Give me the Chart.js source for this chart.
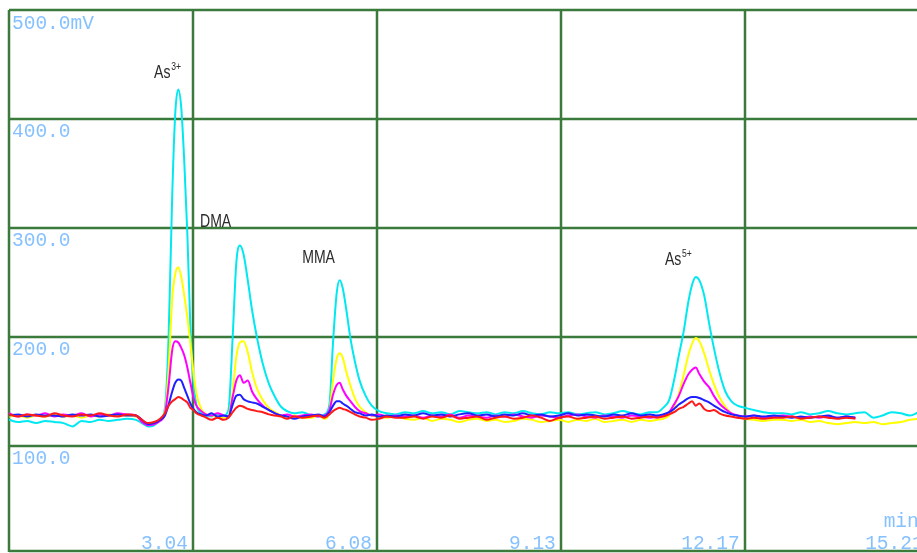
<!DOCTYPE html>
<html>
<head>
<meta charset="utf-8">
<title>Arsenic speciation chromatogram</title>
<script src="https://cdn.jsdelivr.net/npm/chart.js@4.4.0/dist/chart.umd.min.js"></script>
<style>
  html, body { margin: 0; padding: 0; background: #ffffff; }
  #chromChart { display: block; }
</style>
</head>
<body>
<canvas id="chromChart" width="917" height="553"></canvas>
<script>
// ===== Chromatogram data =====

// retention time, min
const retentionTimes = [
  0, 0.15, 0.3, 0.45, 0.6, 0.75, 0.9, 1.05, 1.2, 1.35, 1.5, 1.65, 1.8, 1.95, 2.1, 2.2, 2.3, 2.4,
  2.5, 2.58, 2.64, 2.7, 2.75, 2.8, 2.85, 2.9, 2.95, 3.0, 3.05, 3.1, 3.18, 3.26, 3.35, 3.45, 3.55,
  3.63, 3.7, 3.76, 3.82, 3.88, 3.95, 4.02, 4.1, 4.2, 4.3, 4.4, 4.5, 4.6, 4.72, 4.85,
  5.0, 5.12, 5.22, 5.3, 5.36, 5.42, 5.47, 5.52, 5.58, 5.65, 5.72, 5.8, 5.9, 6.0, 6.12, 6.25, 6.4,
  6.55, 6.7, 6.85, 7.0, 7.15, 7.3, 7.45, 7.6, 7.75, 7.9, 8.05, 8.2, 8.35, 8.5, 8.65, 8.8, 8.95, 9.1,
  9.25, 9.4, 9.55, 9.7, 9.85, 10.0, 10.15, 10.3, 10.45, 10.6,
  10.72, 10.82, 10.92, 11.0, 11.08, 11.16, 11.24, 11.3, 11.36, 11.42, 11.5, 11.58, 11.66, 11.75,
  11.85, 11.95, 12.05, 12.18, 12.32, 12.48, 12.65,
  12.8, 12.95, 13.1, 13.25, 13.4, 13.55, 13.7, 13.85, 14.0, 14.15, 14.3, 14.45, 14.6, 14.75, 14.9, 15.05,
];

// detector signal, mV
const cyanTrace = [
  124, 122, 123, 121, 123, 122, 121, 118, 123, 122, 124, 123, 124, 125, 124, 121, 118, 119,
  124, 135, 200, 330, 405, 427, 410, 360, 295, 210, 160, 138, 130, 128, 127, 129, 128,
  133, 200, 268, 284, 276, 252, 225, 200, 175, 157, 145, 136, 132, 130, 131,
  128, 127, 129, 138, 195, 240, 252, 245, 225, 198, 178, 160, 146, 137, 132, 130, 129,
  131, 130, 132, 130, 131, 129, 132, 131, 130, 131, 129, 131, 130, 132, 130, 129, 131, 130,
  131, 129, 130, 131, 129, 130, 132, 130, 129, 131,
  131, 135, 142, 160, 183, 205, 233, 248, 255, 252, 238, 213, 190, 168, 150, 141, 137, 135, 133, 131, 130,
  130, 129, 131, 129, 130, 132, 130, 129, 130, 131, 126, 128, 131, 130, 128, 131,
];

const yellowTrace = [
  127, 128, 126, 128, 127, 129, 127, 128, 126, 128, 127, 129, 128, 128, 127, 123, 120, 121,
  124, 132, 170, 235, 258, 264, 255, 238, 218, 195, 168, 148, 134, 129, 128, 127, 126,
  128, 150, 182, 195, 196, 186, 168, 153, 142, 135, 131, 128, 127, 128, 126,
  126, 128, 125, 132, 160, 180, 185, 181, 168, 155, 144, 136, 131, 128, 127, 126, 127,
  125, 124, 126, 123, 125, 124, 122, 124, 125, 123, 124, 122, 123, 125, 124, 122, 123, 124,
  122, 124, 123, 125, 122, 123, 124, 122, 124, 123,
  124, 125, 128, 136, 148, 165, 184, 194, 199, 196, 185, 170, 157, 145, 136, 130, 127, 125, 124, 123, 124,
  124, 123, 124, 122, 123, 121, 120, 121, 122, 121, 122, 120, 121, 122, 124, 125,
];

const magentaTrace = [
  130, 127, 129, 128, 130, 127, 129, 128, 130, 127, 129, 128, 130, 129, 128, 122, 119, 120,
  123, 130, 155, 188, 196, 195, 190, 183, 172, 158, 145, 137, 132, 129, 128, 130, 128,
  127, 145, 160, 165, 158, 160, 150, 143, 137, 133, 130, 128, 129, 127, 128,
  129, 127, 128, 133, 147, 156, 158, 152, 146, 141, 136, 132, 130, 128, 129, 127, 128,
  127, 128, 126, 128, 127, 129, 126, 128, 127, 126, 128, 127, 129, 127, 126, 128, 127, 126,
  128, 129, 127, 126, 128, 127, 126, 128, 127, 126,
  127, 128, 131, 138, 146, 157, 166, 170, 172, 166, 159, 154, 146, 139, 134, 130, 128, 127, 128, 126, 127,
  128, 127, 126, 127, 126, 127, 126, 127, 126,
];

const blueTrace = [
  128, 129, 127, 129, 128, 128, 127, 129, 128, 129, 127, 128, 129, 128, 128, 124, 120, 121,
  124, 128, 138, 150, 158, 161, 160, 153, 146, 139, 134, 131, 129, 128, 130, 127, 128,
  127, 138, 146, 147, 143, 141, 140, 139, 136, 133, 130, 128, 127, 125, 127,
  128, 129, 127, 131, 137, 141, 141, 139, 137, 134, 131, 130, 128, 129, 127, 128, 127,
  129, 128, 130, 128, 129, 127, 129, 130, 128, 129, 127, 129, 128, 130, 128, 129, 127, 128,
  130, 128, 129, 128, 127, 129, 128, 130, 128, 129,
  128, 129, 131, 134, 138, 141, 144, 145, 145, 144, 142, 140, 137, 134, 131, 129, 128, 127, 128, 127, 128,
  127, 126, 127, 126, 127, 128, 126, 127, 126,
];

const redTrace = [
  129, 127, 129, 128, 127, 130, 128, 127, 129, 128, 130, 128, 127, 129, 128, 124, 121, 122,
  125, 130, 137, 141, 143, 145, 144, 142, 140, 135, 133, 130, 128, 126, 124, 126, 124,
  126, 131, 135, 137, 136, 134, 133, 132, 131, 129, 128, 127, 125, 127, 126,
  127, 128, 126, 129, 132, 134, 135, 134, 133, 131, 129, 127, 126, 124, 125, 127, 126,
  126, 127, 125, 127, 126, 128, 125, 126, 127, 124, 126, 127, 125, 126, 128, 126, 123, 126,
  127, 125, 126, 127, 125, 126, 127, 125, 126, 127,
  126, 127, 129, 131, 134, 136, 139, 141, 137, 139, 134, 132, 133, 130, 128, 127, 126, 125, 126, 125, 126,
  126, 127, 125, 126, 127, 126, 125, 126, 125,
];

// axis divisions of the recorder screen
const yGridValues = [500, 400, 300, 200, 100];
const yTickLabels = ["500.0mV", "400.0", "300.0", "200.0", "100.0"];
const xDivision = 3.0425;
const xTickLabels = ["3.04", "6.08", "9.13", "12.17", "15.21"];

// peak names
const peakNames = ["As", "DMA", "MMA", "As"];
const peakCharges = ["3+", "", "", "5+"];

// ===== Drawing =====

const GRID_COLOR = "#3a7a3a";
const TICK_COLOR = "#86c1ff";
const TICK_FONT = "19.5px 'Liberation Mono', 'DejaVu Sans Mono', monospace";

document.addEventListener("DOMContentLoaded", function () {
  if (typeof Chart !== "undefined") {
    initChromatogramChart();
  } else {
    console.warn("Chart.js is not loaded. Chart will not be initialized.");
  }
});

function toPoints(values) {
  return values.map(function (v, i) {
    return { x: retentionTimes[i], y: v };
  });
}

// screen grid, drawn under the traces
const scopeGridPlugin = {
  id: "scopeGrid",
  beforeDatasetsDraw: function (chart) {
    const ctx = chart.ctx;
    const area = chart.chartArea;
    const xs = chart.scales.x;
    const ys = chart.scales.y;

    ctx.save();
    ctx.strokeStyle = GRID_COLOR;
    ctx.lineWidth = 2.5;
    ctx.beginPath();
    yGridValues.forEach(function (v) {
      const y = Math.round(ys.getPixelForValue(v));
      ctx.moveTo(area.left, y);
      ctx.lineTo(area.right, y);
    });
    ctx.moveTo(area.left, area.bottom - 1);
    ctx.lineTo(area.right, area.bottom - 1);
    for (let i = 0; i <= xTickLabels.length; i++) {
      const x = Math.round(xs.getPixelForValue(i * xDivision));
      ctx.moveTo(x, area.top);
      ctx.lineTo(x, area.bottom);
    }
    ctx.stroke();
    ctx.restore();
  },
  afterDatasetsDraw: function (chart) {
    const ctx = chart.ctx;
    const area = chart.chartArea;
    const xs = chart.scales.x;
    const ys = chart.scales.y;

    ctx.save();
    ctx.font = TICK_FONT;
    ctx.fillStyle = TICK_COLOR;
    ctx.textBaseline = "alphabetic";

    // y tick labels sit inside each cell, under the grid line
    ctx.textAlign = "left";
    yGridValues.forEach(function (v, i) {
      ctx.fillText(yTickLabels[i], area.left + 3, ys.getPixelForValue(v) + 18.5);
    });

    // x tick labels sit left of each vertical line, at the bottom
    ctx.textAlign = "right";
    xTickLabels.forEach(function (label, i) {
      ctx.fillText(label, xs.getPixelForValue((i + 1) * xDivision) - 5, area.bottom - 3.5);
    });

    ctx.textAlign = "left";
    ctx.fillText("min", xs.getPixelForValue(xTickLabels.length * xDivision) - 45, area.bottom - 25);
    ctx.restore();

    drawPeakNames(chart);
  },
};

// peak annotations, in data units (retention time, mV) of the lower-left corner
const peakAnchors = [
  { t: 2.4, v: 437.6 },
  { t: 3.16, v: 300.9 },
  { t: 4.85, v: 267.9 },
  { t: 10.85, v: 266 },
];

function drawPeakNames(chart) {
  const ctx = chart.ctx;
  const xs = chart.scales.x;
  const ys = chart.scales.y;
  const squeeze = 0.78;

  peakNames.forEach(function (name, i) {
    const x = xs.getPixelForValue(peakAnchors[i].t);
    const y = ys.getPixelForValue(peakAnchors[i].v);

    ctx.save();
    ctx.translate(x, y);
    ctx.scale(squeeze, 1);
    ctx.fillStyle = "#2b2b2b";
    ctx.textAlign = "left";
    ctx.textBaseline = "alphabetic";
    ctx.font = "18px 'Liberation Sans', Arial, sans-serif";
    ctx.fillText(name, 0, 0);
    if (peakCharges[i]) {
      const w = ctx.measureText(name).width;
      ctx.font = "11px 'Liberation Sans', Arial, sans-serif";
      ctx.fillText(peakCharges[i], w + 1, -8);
    }
    ctx.restore();
  });
}

function initChromatogramChart() {
  const canvas = document.getElementById("chromChart");

  try {
    const traces = [
      { data: redTrace, color: "#ff1a1a" },
      { data: blueTrace, color: "#1f1fff" },
      { data: magentaTrace, color: "#ff00ff" },
      { data: yellowTrace, color: "#ffff00" },
      { data: cyanTrace, color: "#00e8f0" },
    ];

    const config = {
      type: "line",
      data: {
        datasets: traces.map(function (tr) {
          return {
            data: toPoints(tr.data),
            borderColor: tr.color,
            borderWidth: 2,
            pointRadius: 0,
            fill: false,
            cubicInterpolationMode: "monotone",
          };
        }),
      },
      options: {
        responsive: false,
        animation: false,
        devicePixelRatio: 1,
        layout: {
          padding: { left: 9, top: 10, right: 0, bottom: 1 },
        },
        scales: {
          x: { type: "linear", display: false, min: 0, max: 15.02 },
          y: { type: "linear", display: false, min: 2.75, max: 500 },
        },
        plugins: {
          legend: { display: false },
          tooltip: { enabled: false },
        },
      },
      plugins: [scopeGridPlugin],
    };

    new Chart(canvas, config);
  } catch (error) {
    console.error("Error initializing chromatogram:", error);
  }
}
</script>
</body>
</html>
